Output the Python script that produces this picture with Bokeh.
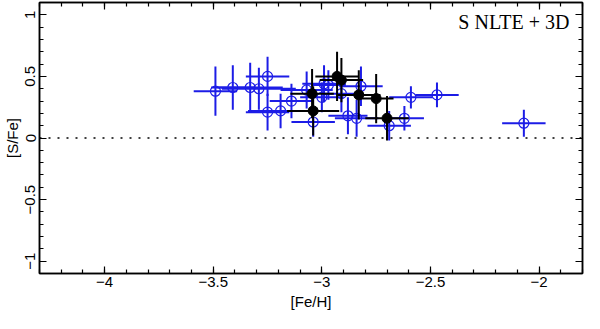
import numpy as np
from bokeh.plotting import figure
from bokeh.models import LinearAxis, Range1d, Label, Span, FixedTicker
from bokeh.embed import file_html
from bokeh.resources import INLINE

# ---- data ----
blue_x = [-3.49, -3.41, -3.33, -3.29, -3.25, -3.25, -3.19, -3.14, -3.04, -3.07, -2.99,
          -2.97, -3.00, -2.91, -2.82, -2.88, -2.84, -2.69, -2.62, -2.59, -2.47, -2.07]
blue_y = [0.38, 0.41, 0.41, 0.40, 0.50, 0.21, 0.22, 0.30, 0.13, 0.39, 0.44,
          0.43, 0.33, 0.36, 0.42, 0.18, 0.16, 0.10, 0.16, 0.33, 0.35, 0.12]
blue_xerr = [0.10, 0.10, 0.15, 0.17, 0.10, 0.10, 0.15, 0.10, 0.10, 0.12, 0.10,
             0.08, 0.10, 0.08, 0.10, 0.09, 0.10, 0.10, 0.09, 0.10, 0.10, 0.10]
blue_yerr = [0.20, 0.18, 0.20, 0.17, 0.16, 0.15, 0.14, 0.14, 0.12, 0.15, 0.15,
             0.12, 0.12, 0.15, 0.16, 0.15, 0.15, 0.12, 0.10, 0.09, 0.10, 0.11]

black_x = [-3.045, -3.04, -2.93, -2.91, -2.83, -2.75, -2.70]
black_y = [0.36, 0.22, 0.50, 0.47, 0.35, 0.32, 0.16]
black_xerr = [0.10, 0.12, 0.10, 0.10, 0.10, 0.08, 0.10]
black_yerr = [0.20, 0.20, 0.20, 0.18, 0.20, 0.20, 0.18]

x_ticks = [-4, -3.5, -3, -2.5, -2]
x_tick_labels = ["\u22124", "\u22123.5", "\u22123", "\u22122.5", "\u22122"]
y_ticks = [-1, -0.5, 0, 0.5, 1]
y_tick_labels = ["\u22121", "\u22120.5", "0", "0.5", "1"]
x_minor = [round(v, 1) for v in np.arange(-4.3, -1.79, 0.1)]
y_minor = [round(v, 1) for v in np.arange(-1.1, 1.11, 0.1)]

annotation = "S NLTE + 3D"
x_title = "[Fe/H]"
y_title = "[S/Fe]"

BLUE = "#1c1ce6"
FONT = "Liberation Sans"

p = figure(width=584, height=313, output_backend="svg", toolbar_location=None,
           x_range=Range1d(-4.3, -1.8), y_range=Range1d(-1.1, 1.1),
           min_border_left=37, min_border_right=2, min_border_top=2, min_border_bottom=40)
p.grid.visible = False
p.outline_line_color = "black"
p.outline_line_width = 1.5
p.background_fill_color = "white"
p.border_fill_color = "white"

def style_axis(ax, ticks, minor, labels, show_labels):
    ax.ticker = FixedTicker(ticks=ticks, minor_ticks=minor)
    ax.major_tick_in = 7
    ax.major_tick_out = 0
    ax.minor_tick_in = 4
    ax.minor_tick_out = 0
    ax.major_tick_line_color = "black"
    ax.minor_tick_line_color = "black"
    ax.major_tick_line_width = 1.2
    ax.minor_tick_line_width = 1.2
    ax.axis_line_color = "black"
    ax.axis_line_width = 1.5
    if show_labels:
        ax.major_label_overrides = {t: l for t, l in zip(ticks, labels)}
        ax.major_label_text_font = FONT
        ax.major_label_text_font_size = "15px"
        ax.major_label_text_color = "black"
    else:
        ax.major_label_text_font_size = "0px"
        ax.major_label_text_color = None
        ax.major_label_standoff = 0
        ax.axis_label = None
        ax.axis_label_standoff = 0

xb = p.xaxis[0]
style_axis(xb, x_ticks, x_minor, x_tick_labels, True)
xb.major_label_standoff = 3
xb.axis_label = x_title
xb.axis_label_text_font = FONT
xb.axis_label_text_font_size = "15px"
xb.axis_label_text_font_style = "normal"
xb.axis_label_text_color = "black"
xb.axis_label_standoff = 3

yl = p.yaxis[0]
style_axis(yl, y_ticks, y_minor, y_tick_labels, True)
yl.major_label_orientation = "parallel"
yl.major_label_standoff = 4
yl.axis_label = y_title
yl.axis_label_text_font = FONT
yl.axis_label_text_font_size = "15px"
yl.axis_label_text_font_style = "normal"
yl.axis_label_text_color = "black"
yl.axis_label_standoff = 2

xt = LinearAxis()
style_axis(xt, x_ticks, x_minor, x_tick_labels, False)
p.add_layout(xt, "above")
yr = LinearAxis()
style_axis(yr, y_ticks, y_minor, y_tick_labels, False)
p.add_layout(yr, "right")

p.add_layout(Span(location=0, dimension="width", line_color="black",
                  line_width=1.5, line_dash="2 7"))

bx = np.array(blue_x); by = np.array(blue_y)
bxe = np.array(blue_xerr); bye = np.array(blue_yerr)
p.segment(x0=bx - bxe, y0=by, x1=bx + bxe, y1=by, line_color=BLUE, line_width=2)
p.segment(x0=bx, y0=by - bye, x1=bx, y1=by + bye, line_color=BLUE, line_width=2)
p.scatter(bx, by, marker="circle", size=10, fill_color=None, line_color=BLUE, line_width=1.2)

kx = np.array(black_x); ky = np.array(black_y)
kxe = np.array(black_xerr); kye = np.array(black_yerr)
p.segment(x0=kx - kxe, y0=ky, x1=kx + kxe, y1=ky, line_color="black", line_width=2)
p.segment(x0=kx, y0=ky - kye, x1=kx, y1=ky + kye, line_color="black", line_width=2)
p.scatter(kx, ky, marker="circle", size=10, fill_color="black", line_color="black")

p.add_layout(Label(x=-1.86, y=0.945, text=annotation, text_align="right",
                   text_baseline="middle", text_font="Liberation Serif",
                   text_font_size="20px", text_color="black"))

open("out.html", "w").write(file_html(p, INLINE))
